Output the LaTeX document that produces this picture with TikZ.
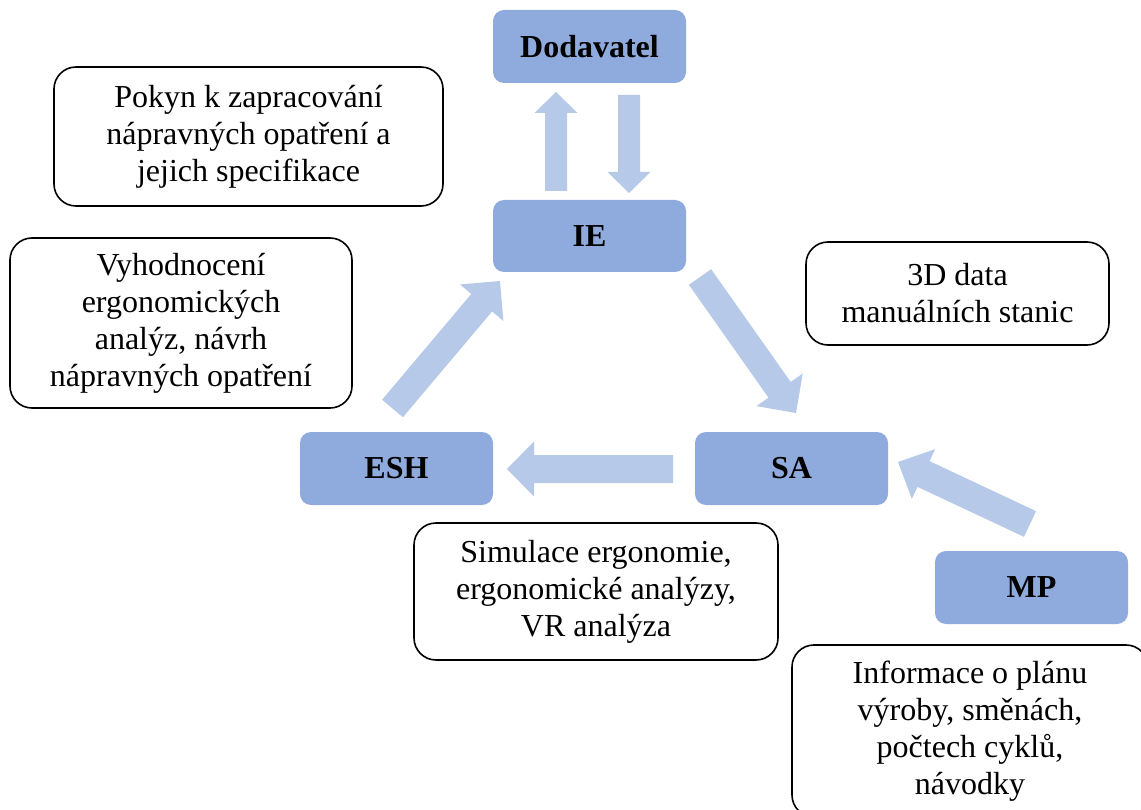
\documentclass[tikz,border=0pt]{standalone}
\usepackage{fontspec}
\setmainfont{Liberation Serif}
\usetikzlibrary{calc}
\definecolor{boxblue}{HTML}{8FAADC}
\definecolor{arrowblue}{HTML}{B7C9E8}
% Block arrow: #1 tail centre, #2 tip, #3 half shaft width, #4 half head width, #5 head length
\newcommand\blockarrow[5]{%
  \coordinate (#1-#2-base) at ($(#2)!#5!(#1)$);
  \fill[arrowblue]
    ($(#1)!#3!90:(#2)$) -- ($(#1-#2-base)!#3!90:(#2)$) -- ($(#1-#2-base)!#4!90:(#2)$)
    -- (#2)
    -- ($(#1-#2-base)!#4!-90:(#2)$) -- ($(#1-#2-base)!#3!-90:(#2)$) -- ($(#1)!#3!-90:(#2)$) -- cycle;
}
\tikzset{
  role/.style={fill=boxblue, rounded corners=11pt, inner sep=0pt,
    minimum width=193pt, minimum height=73pt,
    font=\fontsize{32}{37}\selectfont\bfseries},
  infobox/.style={draw=black, line width=1.6pt, fill=white, rounded corners=22pt,
    inner sep=0pt, align=center, font=\fontsize{32}{37}\selectfont}
}
\begin{document}
\begin{tikzpicture}[x=1pt, y=-1pt]
\useasboundingbox (0,0) rectangle (1141,810);
\clip (0,0) rectangle (1141,810);

% process boxes
\node[role] (dod) at (589.5,46.5) {Dodavatel};
\node[role, minimum height=72pt] (ie) at (589.5,236) {IE};
\node[role] (esh) at (396.5,468.5) {ESH};
\node[role] (sa) at (791.5,468.5) {SA};
\node[role] (mp) at (1031.5,587.5) {MP};

% arrow end points
\coordinate (upT) at (556,191);   \coordinate (upH) at (556,92);
\coordinate (dnT) at (629,95);    \coordinate (dnH) at (629,193);
\coordinate (eiT) at (392.5,408.5); \coordinate (eiH) at (500,281);
\coordinate (isT) at (700,277);   \coordinate (isH) at (796,413);
\coordinate (seT) at (673,469);   \coordinate (seH) at (507,469);
\coordinate (msT) at (1030,524);  \coordinate (msH) at (898,462);

\blockarrow{upT}{upH}{11pt}{21.5pt}{21pt}
\blockarrow{dnT}{dnH}{11pt}{21.5pt}{21pt}
\blockarrow{eiT}{eiH}{13.6pt}{28.3pt}{28.4pt}
\blockarrow{isT}{isH}{13.6pt}{28.3pt}{28.4pt}
\blockarrow{seT}{seH}{14pt}{27.5pt}{27pt}
\blockarrow{msT}{msH}{14.2pt}{27.5pt}{28.2pt}

% information boxes
\node[infobox, minimum width=389pt, minimum height=139pt] (pokyn) at (248.5,136.5)
  {Pokyn k zapracování\\nápravných opatření a\\jejich specifikace};
\node[infobox, minimum width=342pt, minimum height=170pt] (vyh) at (181,323)
  {Vyhodnocení\\ergonomických\\analýz, návrh\\nápravných opatření};
\node[infobox, minimum width=303pt, minimum height=103pt] (data) at (957.5,293.5)
  {3D data\\manuálních stanic};
\node[infobox, minimum width=364pt, minimum height=137pt] (sim) at (596,591.5)
  {Simulace ergonomie,\\ergonomické analýzy,\\VR analýza};
\node[infobox, minimum width=356pt, minimum height=172pt] (inf) at (970,731)
  {Informace o plánu\\výroby, směnách,\\počtech cyklů,\\návodky};
\end{tikzpicture}
\end{document}
